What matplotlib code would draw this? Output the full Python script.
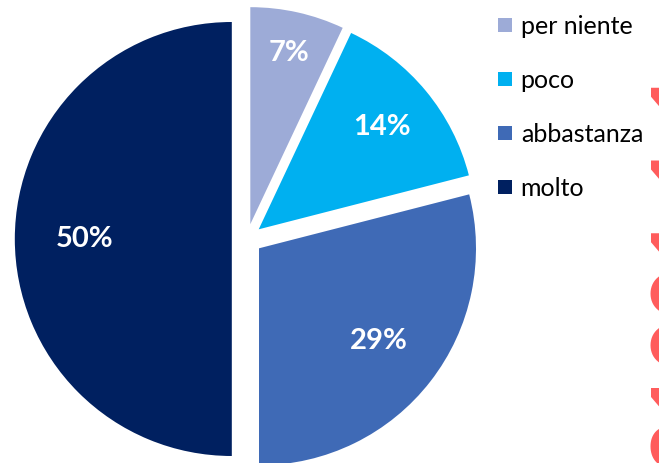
import numpy as np
import matplotlib.pyplot as plt
from matplotlib.lines import Line2D

labels = ['per niente', 'poco', 'abbastanza', 'molto']
values = [7, 14, 29, 50]
colors = ['#9DABD7', '#00B0F0', '#3F6AB6', '#002060']
# radial position of each percentage label (fraction of radius)
label_dist = [0.88, 0.81, 0.77, 0.75]

plt.rcParams['font.family'] = ['Lato', 'DejaVu Sans']

fig = plt.figure(figsize=(6.59, 4.63), dpi=100)
W, H = 659, 463
r_px = 217
cx, cy = 247, 463 - 239
lim = 1.2
size = 2 * lim * r_px
ax = fig.add_axes([(cx - size / 2) / W, (cy - size / 2) / H, size / W, size / H])

explode = 0.07
wedges, _ = ax.pie(values, colors=colors, startangle=90, counterclock=False,
                   explode=[explode] * len(values), radius=1,
                   wedgeprops=dict(linewidth=0))
for w, v, d in zip(wedges, values, label_dist):
    ang = np.deg2rad((w.theta1 + w.theta2) / 2)
    ax.text(d * np.cos(ang), d * np.sin(ang), f'{v}%', color='white',
            fontsize=21, fontweight='bold', ha='center', va='center')
ax.set_xlim(-lim, lim)
ax.set_ylim(-lim, lim)
ax.set_aspect('equal')
ax.axis('off')

handles = [Line2D([], [], marker='s', linestyle='none', markersize=10,
                  markerfacecolor=c, markeredgewidth=0) for c in colors]
fig.legend(handles, labels, loc='upper left', bbox_to_anchor=(497 / W, 1 - 15 / H),
           frameon=False, fontsize=18, labelspacing=1.24, handlelength=0.6,
           handletextpad=0.35, borderpad=0, borderaxespad=0)

# red vertical stamp cut off at the right edge
fig.text(648 / W, 1 - 470 / H, '31001.1.1', rotation=90, color='#FF5B5B',
         fontsize=64, fontweight='bold', ha='left', va='bottom')

fig.savefig('out.png', dpi=100)
